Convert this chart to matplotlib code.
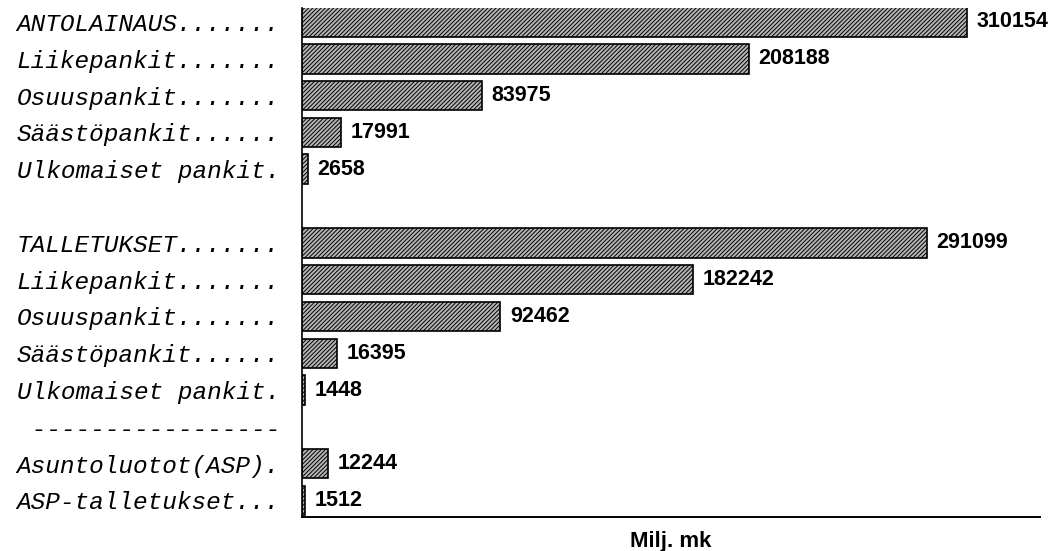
import numpy as np
import matplotlib.pyplot as plt

# data (Milj. mk)
labels = ["ANTOLAINAUS.......", "Liikepankit.......", "Osuuspankit.......",
          "Säästöpankit......", "Ulkomaiset pankit.",
          "",
          "TALLETUKSET.......", "Liikepankit.......", "Osuuspankit.......",
          "Säästöpankit......", "Ulkomaiset pankit.",
          " -----------------",
          "Asuntoluotot(ASP).", "ASP-talletukset..."]
values = [310154, 208188, 83975, 17991, 2658,
          None,
          291099, 182242, 92462, 16395, 1448,
          None,
          12244, 1512]

plt.rcParams['hatch.color'] = '#5a5a5a'
plt.rcParams['hatch.linewidth'] = 0.7

fig = plt.figure(figsize=(10.54, 5.51), dpi=100)
ax = fig.add_axes([302/1054, 34/551, 738/1054, 509/551])

pos = np.arange(len(labels))
for p, v in zip(pos, values):
    if v is None:
        continue
    ax.barh(p, v, height=0.8, color='#b6b6b6', edgecolor='black',
            linewidth=1.2, hatch='////////')
    ax.text(v + 4500, p, str(v), va='center', ha='left',
            fontfamily='Liberation Sans', fontweight='bold', fontsize=15.5)

ax.set_ylim(13.45, -0.38)
ax.set_xlim(0, 344000)
ax.set_yticks(pos)
ax.set_yticklabels(labels, fontfamily='Liberation Mono', fontstyle='italic',
                   fontsize=17.6)
ax.tick_params(axis='y', length=0, pad=16)
ax.set_xticks([])
for s in ['top', 'right']:
    ax.spines[s].set_visible(False)
ax.spines['left'].set_linewidth(1.2)
ax.spines['bottom'].set_linewidth(1.4)
ax.set_xlabel("Milj. mk", fontfamily='Liberation Sans', fontweight='bold',
              fontsize=16, labelpad=10)

fig.savefig("out.png", dpi=100)
